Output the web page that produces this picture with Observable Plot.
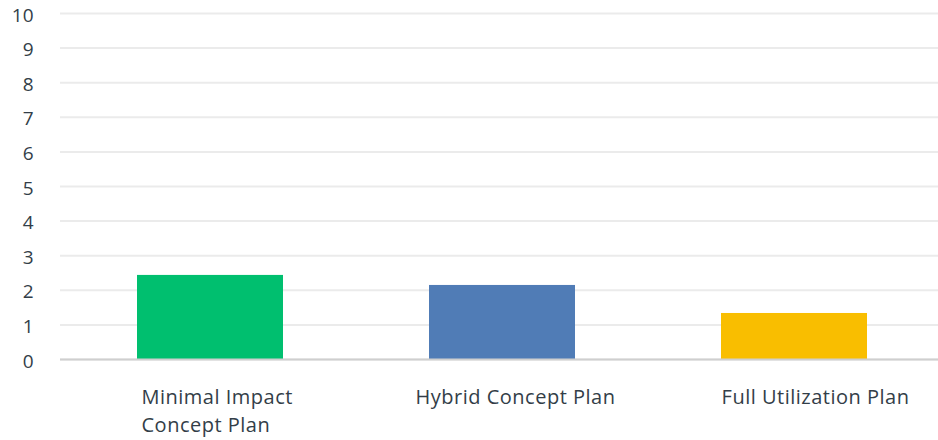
<!DOCTYPE html>
<html>
<head>
<meta charset="utf-8">
<script src="https://cdn.jsdelivr.net/npm/d3@7"></script>
<script src="https://cdn.jsdelivr.net/npm/@observablehq/plot@0.6"></script>
<style>
  html, body { margin: 0; padding: 0; background: #fff; }
  #chart svg { display: block; }
  #chart svg g[aria-label="text"] text { letter-spacing: 0.5px; }
</style>
</head>
<body>
<div id="chart"></div>
<script>
const categories = ["Minimal Impact Concept Plan", "Hybrid Concept Plan", "Full Utilization Plan"];
const values = [2.43, 2.14, 1.33];
const colors = ["#00BF6F", "#507CB6", "#F9BE00"];
const yTicks = [0, 1, 2, 3, 4, 5, 6, 7, 8, 9, 10];
const xLabels = ["Minimal Impact\nConcept Plan", "Hybrid Concept Plan", "Full Utilization Plan"];

const data = categories.map((c, i) => ({category: c, value: values[i], color: colors[i], label: xLabels[i]}));

const font = "'Open Sans', sans-serif";
const textColor = "#333E48";

const labelMark = (i, anchor, dx) => Plot.text([data[i]], {
  x: "category", y: 0, text: "label", textAnchor: anchor, lineAnchor: "top",
  dx, dy: 25, fontSize: 20, fill: textColor, lineHeight: 1.4
});

const chart = Plot.plot({
  width: 938,
  height: 440,
  marginTop: 13,
  marginBottom: 81,
  marginLeft: 60,
  marginRight: 0,
  style: {fontFamily: font, background: "#fff"},
  x: {domain: categories, range: [64, 940], paddingInner: 0.5, paddingOuter: 0.25, axis: null},
  y: {domain: [0, 10], ticks: yTicks, label: null},
  marks: [
    Plot.gridY(yTicks, {stroke: "#ebebeb", strokeOpacity: 1, strokeWidth: 2}),
    Plot.axisY(yTicks, {tickSize: 0, tickPadding: 27, fontSize: 19, fill: textColor, dy: 2, label: null}),
    Plot.ruleX([0], {x: () => null, frameAnchor: "left", stroke: "#d6d6d6", strokeWidth: 2}),
    Plot.barY(data, {x: "category", y: "value", fill: "color"}),
    Plot.ruleY([0], {stroke: "#cfcfcf", strokeWidth: 2}),
    labelMark(0, "start", -69),
    labelMark(1, "middle", 13),
    labelMark(2, "middle", 21)
  ]
});

document.getElementById("chart").appendChild(chart);
</script>
</body>
</html>
